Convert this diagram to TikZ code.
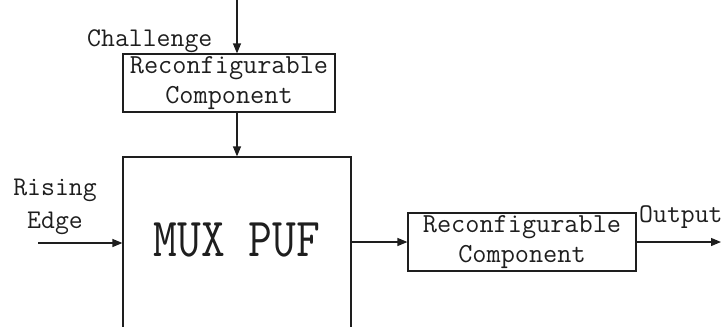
\documentclass[tikz,border=0pt]{standalone}
\usepackage{graphicx}
\usetikzlibrary{arrows.meta}
\definecolor{ink}{HTML}{1E1E1E}
\begin{document}
\begin{tikzpicture}[x=1pt,y=-1pt,
  every node/.style={text=ink},
  blk/.style={draw=ink, line width=1.2pt, inner sep=0pt, align=center,
              font=\fontsize{27.5}{30}\selectfont\ttfamily},
  lbl/.style={inner sep=0pt, font=\fontsize{27}{33}\selectfont\ttfamily},
  arr/.style={draw=ink, line width=1.2pt, -{Triangle[length=10pt,width=8pt]}}]
  \useasboundingbox (0,0) rectangle (724,327);
  \clip (0,0) rectangle (724,327);

  % blocks
  \node[blk, minimum width=212pt, minimum height=58pt] (rcin) at (229,83)
       {Reconfigurable\\Component};
  \node[blk, minimum width=228pt, minimum height=200pt] (mux) at (237,257) {};
  \node[inner sep=0pt, font=\fontsize{55}{60}\selectfont\ttfamily] (muxtxt) at (237,240)
       {\scalebox{0.84}[1]{MUX PUF}};
  \node[blk, minimum width=228pt, minimum height=58pt] (rcout) at (522,242)
       {Reconfigurable\\Component};

  % free ends of the signals
  \coordinate (chin) at (237,0);
  \coordinate (edgein) at (38,243);
  \coordinate (outend) at (721,242);

  % labels
  \node[lbl, anchor=base west] (chlbl) at (87,46) {Challenge};
  \node[lbl, anchor=north, align=center] (edgelbl) at (55,179) {Rising\\Edge};
  \node[lbl, anchor=base west] (outlbl) at (639,222) {Output};

  % connectors
  \draw[arr] (chin) -- (chin |- rcin.north);
  \draw[arr] (rcin.south -| mux.north) -- (mux.north);
  \draw[arr] (edgein) -- (edgein -| mux.west);
  \draw[arr] (mux.east |- rcout.west) -- (rcout.west);
  \draw[arr] (rcout.east) -- (outend);
\end{tikzpicture}
\end{document}
